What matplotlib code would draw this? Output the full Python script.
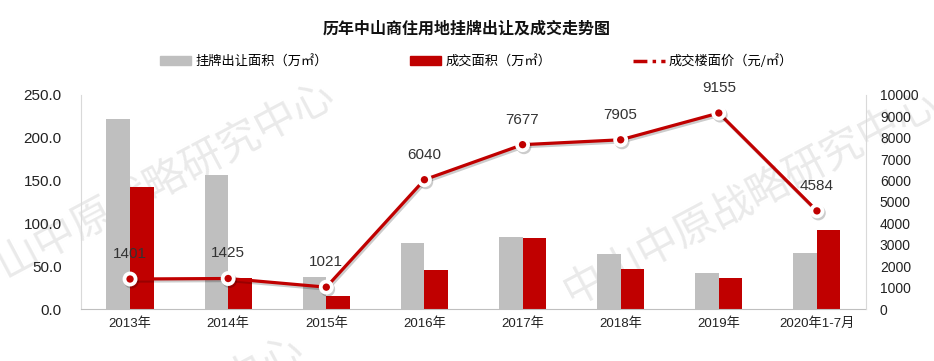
import matplotlib
matplotlib.use('Agg')
import matplotlib.pyplot as plt
import matplotlib.patheffects as pe
from matplotlib.patches import Patch
from matplotlib.lines import Line2D

plt.rcParams['font.family'] = ['Liberation Sans', 'Noto Sans CJK SC', 'DejaVu Sans']

years = ['2013年', '2014年', '2015年', '2016年', '2017年', '2018年', '2019年', '2020年1-7月']
listed_area = [222.0, 156.3, 37.0, 76.6, 84.0, 63.7, 41.8, 65.2]
deal_area = [142.6, 36.7, 15.6, 46.0, 82.4, 47.3, 35.9, 92.6]
deal_price = [1401, 1425, 1021, 6040, 7677, 7905, 9155, 4584]

gray = '#bfbfbf'
red = '#c00000'

fig = plt.figure(figsize=(9.34, 3.61), dpi=100)
ax = fig.add_axes([0.0867, 0.144, 0.8405, 0.593])
ax.patch.set_visible(False)

# watermark, behind everything
wm = '中山中原战略研究中心'
for px, py in [(148, 190), (751, 198), (117, 444)]:
    fig.text(px / 934, 1 - py / 361, wm, fontsize=30, color='#eaeaea', rotation=28,
             ha='center', va='center', rotation_mode='anchor',
             family=['Noto Sans CJK SC'], zorder=-1)

x = list(range(len(years)))
w = 0.24
ax.bar([i - w / 2 for i in x], listed_area, width=w, color=gray, zorder=2)
ax.bar([i + w / 2 for i in x], deal_area, width=w, color=red, zorder=2)

ax.set_xlim(-0.5, len(years) - 0.5)
ax.set_ylim(0, 250)
ax.set_yticks([0, 50, 100, 150, 200, 250])
ax.set_yticklabels(['%.1f' % v for v in [0, 50, 100, 150, 200, 250]], fontsize=11, color='#222222')
ax.set_xticks(x)
ax.set_xticklabels(years, fontsize=9.5, color='#222222')
ax.tick_params(axis='both', length=0, pad=6)
ax.tick_params(axis='y', pad=14)
for s in ['top', 'right']:
    ax.spines[s].set_visible(False)
ax.spines['left'].set_color('#d9d9d9')
ax.spines['bottom'].set_color('#bfbfbf')

ax2 = ax.twinx()
ax2.set_ylim(0, 10000)
ax2.set_yticks(range(0, 10001, 1000))
ax2.set_yticklabels([str(v) for v in range(0, 10001, 1000)], fontsize=10, color='#222222')
ax2.tick_params(axis='y', length=0, pad=10)
for s in ['top', 'left', 'bottom']:
    ax2.spines[s].set_visible(False)
ax2.spines['right'].set_color('#d9d9d9')

ax2.plot(x, deal_price, color=red, linewidth=2.3, marker='o', markersize=8,
         markerfacecolor=red, markeredgecolor='white', markeredgewidth=2.7, zorder=3,
         path_effects=[pe.SimpleLineShadow(offset=(1, -1.5), alpha=0.2), pe.Normal()])
for i, v in zip(x, deal_price):
    ax2.annotate(str(v), (i, v), xytext=(0, 13), textcoords='offset points',
                 ha='center', va='bottom', fontsize=11, color='#333333')

fig.text(0.5, 0.92, '历年中山商住用地挂牌出让及成交走势图', ha='center', va='center',
         fontsize=11.5, fontweight='bold', family=['Noto Sans CJK SC'], color='#111111')

handles = [Patch(color=gray), Patch(color=red),
           Line2D([0], [0], color=red, linewidth=2.5, linestyle=(0, (4, 1.5, 1, 1.5)))]
labels = ['挂牌出让面积（万㎡）', '成交面积（万㎡）', '成交楼面价（元/㎡）']
fig.legend(handles, labels, loc='center', bbox_to_anchor=(0.51, 0.83), ncol=3, frameon=False,
           handlelength=2.4, handleheight=0.6, columnspacing=6.2, handletextpad=0.3,
           prop={'family': ['Noto Sans CJK SC'], 'size': 9.5})

fig.savefig('out.png', dpi=100)
